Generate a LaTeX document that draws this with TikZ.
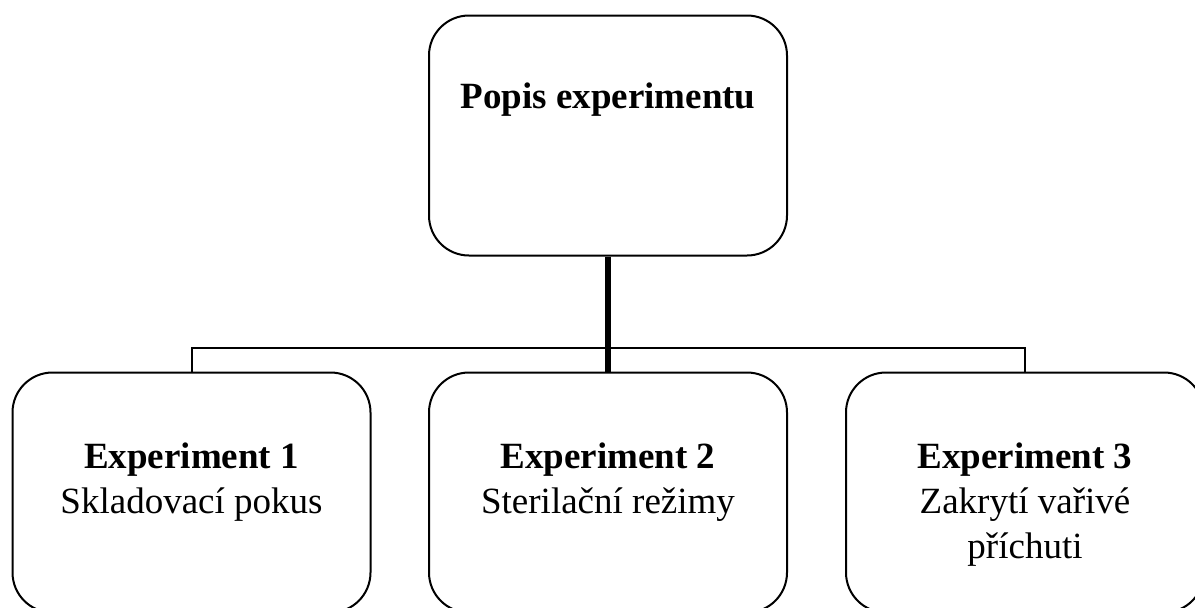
\documentclass[tikz,border=0pt]{standalone}
\usepackage{fontspec}
\setmainfont{Liberation Serif}
\begin{document}
\begin{tikzpicture}[x=0.5pt,y=-0.5pt,
  box/.style={draw=black,line width=1pt,rounded corners=20pt,minimum width=179pt,minimum height=120pt,inner sep=0pt,fill=white},
  lbl/.style={anchor=base,align=center,inner sep=0pt,font=\fontsize{18.5pt}{22.5pt}\selectfont},
  conn/.style={draw=black,line width=1pt},
  main/.style={draw=black,line width=3pt}]
\clip (0,0) rectangle (1195,607);
\node[box] (top) at (608,135.5) {};
\node[box] (e1) at (191.5,492.5) {};
\node[box] (e2) at (608,492.5) {};
\node[box] (e3) at (1025,492.5) {};
\node[lbl] (ttop) at (608,108) {\textbf{Popis experimentu}};
\node[lbl] (t1) at (191.5,513) {\textbf{Experiment 1}\\Skladovací pokus};
\node[lbl] (t2) at (608,513) {\textbf{Experiment 2}\\Sterilační režimy};
\node[lbl] (t3) at (1025,558) {\textbf{Experiment 3}\\Zakrytí vařivé\\příchuti};
\coordinate (bus) at (608,348);
\draw[conn] (e1.north) |- (bus) -| (e3.north);
\draw[main] (top.south) -- (e2.north);
\end{tikzpicture}
\end{document}
